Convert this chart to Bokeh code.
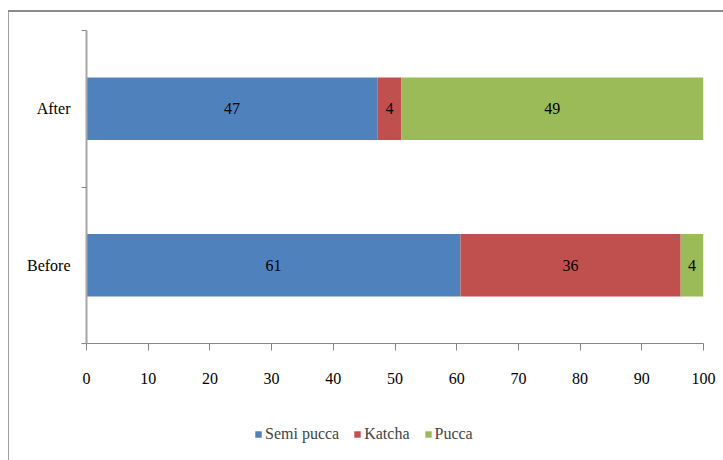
from bokeh.plotting import figure
from bokeh.models import (Range1d, LinearAxis, FixedTicker, Legend, LegendItem,
                          ColumnDataSource, Div, LabelSet)
from bokeh.layouts import column, row
from bokeh.embed import file_html
from bokeh.resources import INLINE

# ---- data ----
periods = ["Before", "After"]
series = ["Semi pucca", "Katcha", "Pucca"]
semi_pucca = [60.6, 47.2]
katcha = [35.7, 3.8]
pucca = [3.7, 49.0]
colors = ["#4F81BD", "#C0504D", "#9BBB59"]
x_ticks = [0, 10, 20, 30, 40, 50, 60, 70, 80, 90, 100]
title_text = "Figure 4.3: The Change in the Housing Structure (in percentage)"

FONT = "Liberation Serif"
FONT2 = "'Liberation Serif', serif"

# category positions: centre of each band on a numeric axis
ypos = [i + 0.5 for i in range(len(periods))]
source = ColumnDataSource(dict(y=ypos, **{"Semi pucca": semi_pucca,
                                          "Katcha": katcha, "Pucca": pucca}))

# ---- main chart ----
p = figure(width=714, height=405, y_range=Range1d(0, len(periods)), x_range=Range1d(0, 100),
           output_backend="svg", toolbar_location=None,
           x_axis_location=None, y_axis_location=None,
           min_border_left=77, min_border_right=20, min_border_top=18, min_border_bottom=74)
p.grid.visible = False
p.outline_line_color = None
p.background_fill_color = "white"
p.border_fill_color = "white"
p.margin = 0

p.hbar_stack(series, y="y", height=0.4, color=colors, source=source, line_color=None)

# value labels at segment midpoints
lx, ly, lt = [], [], []
for i, yv in enumerate(ypos):
    left = 0.0
    for vals in (semi_pucca, katcha, pucca):
        v = vals[i]
        lx.append(left + v / 2)
        ly.append(yv)
        lt.append(str(int(round(v))))
        left += v
lab_src = ColumnDataSource(dict(x=lx, y=ly, t=lt))
p.add_layout(LabelSet(x="x", y="y", text="t", source=lab_src, text_align="center",
                      text_baseline="middle", text_font=FONT2, text_font_size="16px",
                      text_color="black"))

# x axis
xaxis = LinearAxis(ticker=FixedTicker(ticks=x_ticks), axis_line_color="#868686",
                   major_tick_line_color="#868686", major_tick_in=0, major_tick_out=7,
                   minor_tick_line_color=None, major_label_standoff=22,
                   major_label_text_font=FONT, major_label_text_font_size="16px",
                   major_label_text_color="black")
p.add_layout(xaxis, "below")

# y axis: labels at band centres, tick marks at band boundaries
bounds = list(range(len(periods) + 1))
yaxis = LinearAxis(ticker=FixedTicker(ticks=ypos, minor_ticks=bounds),
                   major_label_overrides={yv: lab for yv, lab in zip(ypos, periods)},
                   major_tick_line_color=None,
                   minor_tick_in=0, minor_tick_out=5, minor_tick_line_color="#868686",
                   axis_line_color="#A6A6A6", axis_line_width=2,
                   major_label_standoff=10, major_label_text_font=FONT,
                   major_label_text_font_size="16px", major_label_text_color="black")
p.add_layout(yaxis, "left")

# ---- legend strip under the chart ----
pl = figure(width=714, height=43, x_range=Range1d(0, 100), y_range=Range1d(0, len(periods)),
            output_backend="svg", toolbar_location=None,
            x_axis_location=None, y_axis_location=None,
            min_border=0, min_border_left=0, min_border_right=0,
            min_border_top=0, min_border_bottom=0)
pl.grid.visible = False
pl.outline_line_color = None
pl.background_fill_color = "white"
pl.border_fill_color = "white"
pl.margin = 0
leg_renderers = pl.hbar_stack(series, y="y", height=0.4, color=colors, source=source,
                              line_color=None)
for r in leg_renderers:
    r.visible = False   # only used to give the legend its swatches
legend = Legend(items=[LegendItem(label=s, renderers=[r]) for s, r in zip(series, leg_renderers)],
                orientation="horizontal", location=(168, 17),
                border_line_color=None, background_fill_alpha=0,
                glyph_width=8, glyph_height=8, label_standoff=3, spacing=14,
                padding=0, margin=0,
                label_text_font=FONT2, label_text_font_size="16px")
pl.add_layout(legend, "center")

# title of the figure, clipped at the top of the page (only descenders visible),
# plus the top edge of the chart frame
title_div = Div(width=723, height=12, margin=0,
                text=('<div style="position:relative;width:723px;height:12px;overflow:hidden;">'
                      '<div style="position:absolute;right:8px;top:-29px;white-space:nowrap;'
                      'font-family:\'Liberation Serif\';font-weight:bold;font-size:26px;'
                      'line-height:26px;color:black;">' + title_text + '</div>'
                      '<div style="position:absolute;left:8px;right:0;top:10px;height:2px;'
                      'background:#8C8C8C;"></div></div>'))
# left edge of the chart frame
left_div = Div(width=9, height=448, margin=0,
               text=('<div style="margin-left:8px;width:1px;height:448px;'
                     'background:#A0A0A0;"></div>'))

layout = column(title_div,
                row(left_div, column(p, pl, spacing=0, margin=0), spacing=0, margin=0),
                spacing=0, margin=0)

open("out.html", "w").write(file_html(layout, INLINE))
